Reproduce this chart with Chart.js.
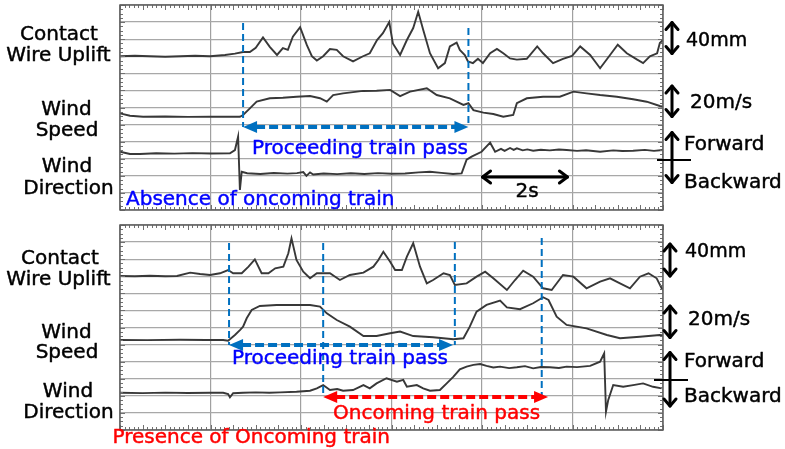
<!DOCTYPE html>
<html><head><meta charset="utf-8">
<script src="https://cdn.jsdelivr.net/npm/chart.js@4.4.1/dist/chart.umd.min.js"></script>
<style>
html,body{margin:0;padding:0;background:#fff;width:785px;height:449px;overflow:hidden}
canvas{position:absolute;left:0}
#c1{top:0}
#c2{top:218px}
</style></head><body>
<canvas id="c1" width="785" height="218"></canvas>
<canvas id="c2" width="785" height="231"></canvas>
<script>
// ---------- DATA (time in s, uplift in mm, wind in m/s, direction component) ----------
const timeTicks = [0, 2, 4, 6, 8, 10, 12];

// Panel 1: absence of oncoming train
const topUpliftT = [0,0.33,0.66,1.0,1.33,1.66,1.99,2.32,2.54,2.72,2.87,3.0,3.16,3.31,3.47,3.6,3.71,3.82,3.98,4.13,4.24,4.35,4.49,4.64,4.79,4.93,5.15,5.37,5.52,5.68,5.81,5.95,6.03,6.19,6.34,6.48,6.59,6.7,6.85,7.03,7.18,7.29,7.44,7.51,7.62,7.69,7.8,7.91,8.02,8.18,8.33,8.47,8.62,8.77,8.99,9.22,9.35,9.57,9.79,9.99,10.17,10.39,10.61,10.83,11.0,11.2,11.43,11.56,11.71,11.87,11.93,12.0];
const topUpliftMm = [0,0.5,0,-0.5,0,0.5,0,1.5,3,5,5,10,22,11,1.5,9.5,7.5,23,34,13,0,-5,0,8.5,7.5,0,-6,0,3.5,19,27,40,15,1.5,19,33,52,31,3.5,-14,-8,11.5,16,7.5,1.5,-6,-8,-3,-8,3.5,8.5,3.5,-2.5,-4,-3,11.5,3.5,-8,-3,0.5,11.5,1.5,-14,1.5,13.5,3.5,-4,-8,0,3.5,15.5,19];

const topSpeedT = [0,0.22,0.51,1.0,1.5,1.99,2.4,2.65,2.72,2.87,3.02,3.31,3.6,3.9,4.2,4.42,4.57,4.71,4.93,5.37,5.67,5.97,6.19,6.41,6.78,7.0,7.29,7.59,7.7,7.81,8.03,8.25,8.47,8.69,8.77,8.99,9.35,9.72,10.02,10.31,10.61,10.98,11.34,11.64,11.93,12.0];
const topSpeedMs = [6.6,5.2,4.6,4.7,4.5,4.6,4.6,4.6,5.6,9.5,13.4,15.4,15.7,16.3,16.7,15.4,13.4,17.3,18.3,19.7,19.8,20.3,16.7,19.3,21.3,17.3,15.4,11.5,12.5,8.5,7.0,6.2,4.6,5.6,12.5,15.4,16.3,16.3,19.3,18.3,17.3,16.3,14.8,13.4,10.9,10.5];

const topDirT = [0,0.1,0.22,0.44,0.8,1.2,1.6,2.0,2.43,2.54,2.61,2.65,2.69,2.81,3.1,3.4,3.7,3.91,4.05,4.12,4.2,4.27,4.5,4.8,5.1,5.4,5.7,6.0,6.3,6.6,6.85,7.1,7.36,7.55,7.66,7.77,7.99,8.18,8.29,8.42,8.5,8.62,8.7,8.77,8.9,9.0,9.13,9.3,9.5,9.7,9.87,10.1,10.3,10.61,10.9,11.1,11.34,11.6,11.8,12.0];
const topDirVal = [4.1,3.5,2.8,2.8,3.2,3.0,3.3,3.1,3.2,5.1,12.9,-18.3,-7.6,-8.5,-8.9,-8.3,-8.7,-8.4,-7.8,-10.0,-8.0,-9.2,-8.6,-9.0,-8.5,-8.9,-8.4,-8.8,-8.6,-8.0,-7.6,-8.3,-8.9,-8.6,-0.5,1.2,4.1,9.4,4.1,5.8,4.6,6.3,5.2,6.1,4.9,5.5,4.7,5.3,4.9,5.4,5.1,4.6,5.0,4.1,4.9,4.5,4.7,5.2,4.6,5.1];

// Panel 2: presence of oncoming train
const botUpliftT = [0,0.33,0.66,1.0,1.26,1.55,1.77,1.99,2.21,2.39,2.5,2.69,2.84,2.98,3.13,3.28,3.43,3.61,3.72,3.79,3.9,4.05,4.2,4.35,4.64,4.86,5.08,5.38,5.6,5.71,5.82,5.97,6.08,6.23,6.34,6.48,6.63,6.78,6.92,7.15,7.29,7.4,7.66,7.88,8.07,8.25,8.55,8.73,8.91,9.13,9.35,9.54,9.79,10.02,10.31,10.61,10.83,11.05,11.27,11.49,11.68,11.86,11.97,12.0];
const botUpliftMm = [0.3,0,0.5,0,0.3,4.2,2.6,1.5,3.5,7.3,3.5,3.5,11.2,19.8,3.5,3.5,9.3,11.2,26.9,44.4,19,5.3,-2.4,3.5,3.5,-4.4,1.5,4.2,11.2,19,28.7,17,7.3,7.3,22.9,38.6,11.2,-8.3,-4.4,3.5,1.5,-10.2,-8.3,-0.5,5.3,-2.4,-16.1,-4.4,6.5,-0.5,-14.1,-16.1,1.5,-0.5,-14.1,-6.4,-2.4,-8.3,-14.1,-0.5,3.5,-2.4,-14.1,-16];

const botSpeedT = [0,0.6,1.33,1.9,2.28,2.39,2.54,2.65,2.72,2.8,2.91,3.09,3.46,3.83,4.2,4.42,4.57,4.79,5.08,5.38,5.67,5.97,6.19,6.48,6.92,7.37,7.59,7.73,7.88,8.1,8.4,8.55,8.84,9.13,9.35,9.47,9.65,9.87,10.31,10.76,11.05,11.49,11.93,12.0];
const botSpeedMs = [2.7,2.6,2.8,2.7,2.7,2.3,5.6,8.5,10.5,15.4,20.3,22.6,23.2,23.2,23.2,22.2,18.3,14.4,10.5,5.0,5.0,6.6,7.6,5.0,4.3,3.1,3.7,10.5,19.3,23.2,25.7,21.8,20.7,24.2,27.7,26.1,16.3,11.5,9.5,5.6,3.7,4.6,5.6,5.4];

const botDirT = [0,0.5,1.0,1.5,2.0,2.28,2.39,2.43,2.5,2.72,3.0,3.3,3.54,3.9,4.2,4.35,4.49,4.64,4.8,4.93,5.15,5.38,5.52,5.67,5.89,6.12,6.26,6.34,6.56,6.7,6.85,7.07,7.22,7.37,7.51,7.66,7.81,7.96,8.1,8.25,8.4,8.6,8.77,8.95,9.13,9.3,9.5,9.7,9.87,10.1,10.39,10.61,10.7,10.74,10.79,10.9,11.12,11.34,11.56,11.78,11.97];
const botDirVal = [-8.2,-8.4,-8.1,-8.3,-8.2,-8.2,-8.9,-10.9,-8.5,-8.2,-8.0,-8.2,-8.0,-7.6,-7.0,-5.6,-3.7,-6.6,-6.0,-7.0,-6.6,-3.7,-5.6,-2.7,0.3,-1.7,-0.7,-4.7,-3.7,-5.6,-7.0,-6.6,-2.7,1.2,5.5,7.1,8.1,8.6,7.5,6.6,7.1,6.2,6.7,7.4,6.1,6.9,6.7,6.3,7.1,6.8,7.5,10.0,14.9,-19.3,-12.4,-3.7,-4.7,-3.7,-2.7,-4.7,-5.6];

// event times (s)
const topPassTimes = [2.72, 7.70];          // proceeding train head / tail
const botProceedTimes = [2.41, 7.40];       // proceeding train pass
const botOncomingTimes = [4.49, 9.32];      // oncoming train pass
const scaleBarTimes = [7.99, 9.91];         // 2 s bar

// ---------- RENDERING ----------
const FONT = '"DejaVu Sans", "Liberation Sans", sans-serif';
const BLUE_LINE = '#0070C0';

function pts(ts, vs) { return ts.map((t, i) => ({ x: t, y: vs[i] })); }

function triHead(ctx, x, y, dir, len, half) {
  ctx.beginPath();
  ctx.moveTo(x, y);
  ctx.lineTo(x + dir * len, y - half);
  ctx.lineTo(x + dir * len, y + half);
  ctx.closePath();
  ctx.fill();
}
function dashedArrow(ctx, x1, x2, y, color) {
  const hl = 14, hw = 6;
  ctx.save();
  ctx.strokeStyle = color; ctx.fillStyle = color; ctx.lineWidth = 4;
  ctx.setLineDash([9, 4]);
  ctx.beginPath(); ctx.moveTo(x1 + hl - 1, y); ctx.lineTo(x2 - hl + 1, y); ctx.stroke();
  ctx.setLineDash([]);
  triHead(ctx, x1, y, 1, hl, hw);
  triHead(ctx, x2, y, -1, hl, hw);
  ctx.restore();
}
function hChevronArrow(ctx, x1, x2, y) {
  ctx.save();
  ctx.strokeStyle = '#000'; ctx.lineWidth = 3; ctx.lineCap = 'round'; ctx.lineJoin = 'round';
  ctx.beginPath(); ctx.moveTo(x1 + 1, y); ctx.lineTo(x2 - 1, y); ctx.stroke();
  ctx.beginPath();
  ctx.moveTo(x1 + 9, y - 6); ctx.lineTo(x1 + 1, y); ctx.lineTo(x1 + 9, y + 6);
  ctx.moveTo(x2 - 9, y - 6); ctx.lineTo(x2 - 1, y); ctx.lineTo(x2 - 9, y + 6);
  ctx.stroke();
  ctx.restore();
}
function vChevronArrow(ctx, x, y1, y2) {
  ctx.save();
  ctx.strokeStyle = '#000'; ctx.lineWidth = 3; ctx.lineCap = 'round'; ctx.lineJoin = 'round';
  ctx.beginPath(); ctx.moveTo(x, y1 + 1); ctx.lineTo(x, y2 - 1); ctx.stroke();
  ctx.beginPath();
  ctx.moveTo(x - 6, y1 + 8); ctx.lineTo(x, y1 + 1); ctx.lineTo(x + 6, y1 + 8);
  ctx.moveTo(x - 6, y2 - 8); ctx.lineTo(x, y2 - 1); ctx.lineTo(x + 6, y2 - 8);
  ctx.stroke();
  ctx.restore();
}

const decor = {
  id: 'decor',
  afterDatasetsDraw(chart, args, o) {
    const ctx = chart.ctx, a = chart.chartArea, xs = chart.scales.x, yg = chart.scales.yU;
    const X = t => xs.getPixelForValue(t);
    const Y = y => y - o.oy;
    ctx.save();
    // minor ticks on frame
    ctx.strokeStyle = '#707070'; ctx.lineWidth = 1;
    ctx.beginPath();
    for (let i = 0; i <= 120; i++) {
      const px = Math.round(X(i / 10)) + 0.5, L = i % 5 === 0 ? 5 : 3;
      ctx.moveTo(px, a.top); ctx.lineTo(px, a.top + L);
      ctx.moveTo(px, a.bottom); ctx.lineTo(px, a.bottom - L);
    }
    for (let i = 0; i <= 48; i++) {
      const py = Math.round(yg.getPixelForValue(-180 + i * 5)) + 0.5, L = i % 4 === 0 ? 5 : 3;
      ctx.moveTo(a.left, py); ctx.lineTo(a.left + L, py);
      ctx.moveTo(a.right, py); ctx.lineTo(a.right - L, py);
    }
    ctx.stroke();
    // frame
    ctx.strokeStyle = '#5f5f5f'; ctx.lineWidth = 1.5;
    ctx.strokeRect(a.left, a.top, a.right - a.left, a.bottom - a.top);

    // dashed event lines
    ctx.strokeStyle = BLUE_LINE; ctx.lineWidth = 2; ctx.setLineDash([7, 4]);
    o.vlines.forEach(v => {
      const px = X(v.t);
      ctx.beginPath(); ctx.moveTo(px, Y(v.y1)); ctx.lineTo(px, Y(v.y2)); ctx.stroke();
    });
    ctx.setLineDash([]);

    // arrows
    o.arrows.forEach(r => dashedArrow(ctx, X(r.t1), X(r.t2), Y(r.y), r.color));
    if (o.bar) hChevronArrow(ctx, X(o.bar.t1), X(o.bar.t2), Y(o.bar.y));

    // right-side scale arrows
    o.vArrows.forEach(v => vChevronArrow(ctx, v.x, Y(v.y1), Y(v.y2)));
    ctx.strokeStyle = '#000'; ctx.lineWidth = 2;
    ctx.beginPath(); ctx.moveTo(o.cross.x1, Y(o.cross.y)); ctx.lineTo(o.cross.x2, Y(o.cross.y)); ctx.stroke();

    // texts (slight outline to match the heavier original lettering)
    o.texts.forEach(s => {
      ctx.font = (s.size || 20) + 'px ' + FONT;
      ctx.fillStyle = s.color || '#000';
      ctx.strokeStyle = s.color || '#000';
      ctx.lineWidth = 0.45;
      ctx.lineJoin = 'round';
      ctx.textAlign = s.align || 'left';
      ctx.textBaseline = s.base || 'alphabetic';
      ctx.fillText(s.s, s.x, Y(s.y));
      ctx.strokeText(s.s, s.x, Y(s.y));
    });
    ctx.restore();
  }
};

function makeChart(id, series, decorOpts, pad) {
  return new Chart(document.getElementById(id), {
    type: 'line',
    data: {
      datasets: series.map(s => ({
        data: pts(s.t, s.v), yAxisID: s.axis,
        borderColor: '#383838', borderWidth: 1.9, pointRadius: 0, tension: 0, fill: false
      }))
    },
    options: {
      responsive: false, animation: false, events: [],
      layout: { padding: pad },
      plugins: { legend: { display: false }, tooltip: { enabled: false }, decor: decorOpts },
      scales: {
        x: {
          type: 'linear', min: timeTicks[0], max: timeTicks[timeTicks.length - 1],
          afterBuildTicks: sc => { sc.ticks = timeTicks.map(v => ({ value: v })); },
          ticks: { display: false },
          grid: { color: '#a0a0a0', lineWidth: 1.2, drawTicks: false },
          border: { display: false }
        },
        yU: {
          type: 'linear', position: 'left', min: -180, max: 60,
          ticks: { display: false, stepSize: 20 },
          grid: { color: '#a8a8a8', lineWidth: 1.2, drawTicks: false },
          border: { display: false }
        },
        yS: { type: 'linear', display: false, min: -50, max: 70 },
        yD: { type: 'linear', display: false, min: -30, max: 90 }
      }
    },
    plugins: [decor]
  });
}

makeChart('c1', [
  { t: topUpliftT, v: topUpliftMm, axis: 'yU' },
  { t: topSpeedT, v: topSpeedMs, axis: 'yS' },
  { t: topDirT, v: topDirVal, axis: 'yD' }
], {
  oy: 0,
  vlines: [{ t: topPassTimes[0], y1: 23, y2: 127 }, { t: topPassTimes[1], y1: 28, y2: 127 }],
  arrows: [{ t1: topPassTimes[0], t2: topPassTimes[1], y: 127, color: BLUE_LINE }],
  bar: { t1: scaleBarTimes[0], t2: scaleBarTimes[1], y: 177 },
  vArrows: [{ x: 672, y1: 21.5, y2: 54.5 }, { x: 672, y1: 85, y2: 117.5 }, { x: 672, y1: 131.5, y2: 183.5 }],
  cross: { x1: 657, x2: 691, y: 160 },
  texts: [
    { s: 'Contact', x: 59, y: 39.5, align: 'center' },
    { s: 'Wire Uplift', x: 58.5, y: 60.5, align: 'center' },
    { s: 'Wind', x: 66.5, y: 114.5, align: 'center' },
    { s: 'Speed', x: 67, y: 135.5, align: 'center' },
    { s: 'Wind', x: 67, y: 172, align: 'center' },
    { s: 'Direction', x: 68.5, y: 193.5, align: 'center' },
    { s: '40mm', x: 686, y: 41, size: 19, base: 'middle' },
    { s: '20m/s', x: 690, y: 103, size: 20, base: 'middle' },
    { s: 'Forward', x: 684, y: 145, base: 'middle' },
    { s: 'Backward', x: 684, y: 183, base: 'middle' },
    { s: 'Proceeding train pass', x: 252, y: 154, color: '#0000FF' },
    { s: 'Absence of oncoming train', x: 126, y: 205, color: '#0000FF' },
    { s: '2s', x: 527, y: 197, align: 'center' }
  ]
}, { left: 120, right: 122, top: 5, bottom: 8 });

makeChart('c2', [
  { t: botUpliftT, v: botUpliftMm, axis: 'yU' },
  { t: botSpeedT, v: botSpeedMs, axis: 'yS' },
  { t: botDirT, v: botDirVal, axis: 'yD' }
], {
  oy: 218,
  vlines: [
    { t: botProceedTimes[0], y1: 243, y2: 345 },
    { t: botOncomingTimes[0], y1: 243, y2: 397 },
    { t: botProceedTimes[1], y1: 242, y2: 345 },
    { t: botOncomingTimes[1], y1: 238, y2: 397 }
  ],
  arrows: [
    { t1: botProceedTimes[0], t2: botProceedTimes[1] - 0.04, y: 345, color: BLUE_LINE },
    { t1: botOncomingTimes[0], t2: botOncomingTimes[1] + 0.14, y: 397, color: '#FF0000' }
  ],
  bar: null,
  vArrows: [{ x: 670, y1: 243, y2: 277 }, { x: 670, y1: 305, y2: 338.5 }, { x: 670, y1: 351.5, y2: 407 }],
  cross: { x1: 654, x2: 688, y: 380 },
  texts: [
    { s: 'Contact', x: 60, y: 264.3, align: 'center' },
    { s: 'Wire Uplift', x: 58.5, y: 285, align: 'center' },
    { s: 'Wind', x: 66.5, y: 338.3, align: 'center' },
    { s: 'Speed', x: 67, y: 358.3, align: 'center' },
    { s: 'Wind', x: 68, y: 396.7, align: 'center' },
    { s: 'Direction', x: 68.5, y: 417.7, align: 'center' },
    { s: '40mm', x: 685, y: 252.5, size: 19, base: 'middle' },
    { s: '20m/s', x: 688, y: 320, size: 20, base: 'middle' },
    { s: 'Forward', x: 684, y: 361.7, base: 'middle' },
    { s: 'Backward', x: 684, y: 396.7, base: 'middle' },
    { s: 'Proceeding train pass', x: 232, y: 364, color: '#0000FF' },
    { s: 'Oncoming train pass', x: 333, y: 418.5, color: '#FF0000' },
    { s: 'Presence of Oncoming train', x: 112.5, y: 443, color: '#FF0000' }
  ]
}, { left: 120, right: 122, top: 7, bottom: 19 });
</script>
</body></html>
